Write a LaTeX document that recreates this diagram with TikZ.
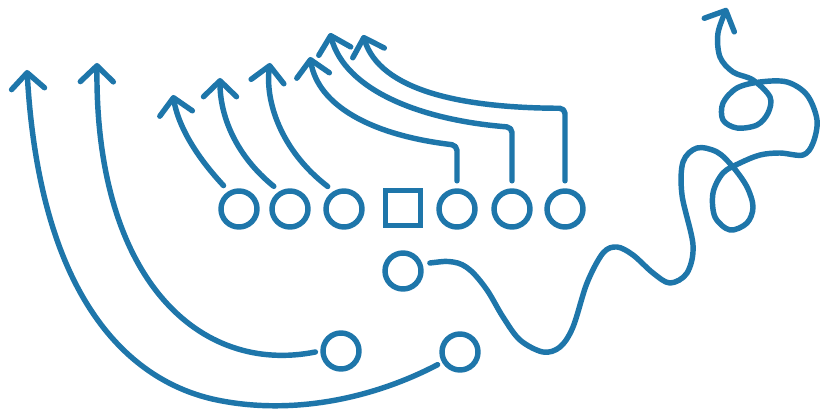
\documentclass[tikz,border=0pt]{standalone}
\usetikzlibrary{arrows.meta}
\definecolor{playblue}{RGB}{30,118,170}

\begin{document}
\begin{tikzpicture}[x=0.02cm,y=-0.02cm,
    route/.style={draw=playblue, line width=3.1pt, line cap=round, line join=round,
        -{Straight Barb[round,length=3.2mm,width=6.6mm]}},
    player/.style={circle, draw=playblue, line width=3.1pt, minimum size=7.2mm, inner sep=0pt},
    snapper/.style={rectangle, draw=playblue, line width=3.1pt, minimum size=7mm, inner sep=0pt}]
    \useasboundingbox[fill=white] (0,0) rectangle (827,412);

    % Line of scrimmage
    \node[player] (o1) at (239,209) {};
    \node[player] (o2) at (290,209) {};
    \node[player] (o3) at (344,209) {};
    \node[snapper] (snap) at (403,208) {};
    \node[player] (o5) at (457,209) {};
    \node[player] (o6) at (512,209) {};
    \node[player] (o7) at (565,209) {};

    % Backfield
    \node[player] (back) at (403,271) {};
    \node[player] (wl) at (341,351) {};
    \node[player] (wr) at (460,352) {};

    % Arrow tips
    \coordinate (t1) at (173,95);
    \coordinate (t2) at (220,78);
    \coordinate (t3) at (270,63);
    \coordinate (t4) at (310,57);
    \coordinate (t5) at (330,33);
    \coordinate (t6) at (363,35);
    \coordinate (t7) at (97,63);
    \coordinate (t8) at (27,70);
    \coordinate (t9) at (727,8);

    % Short routes off the left side
    \draw[route, shorten <=1.5mm] (o1.120) .. controls (195,155) and (178,125) .. (t1);
    \draw[route, shorten <=1.5mm] (o2.120) .. controls (235,155) and (220,115) .. (t2);
    \draw[route, shorten <=1.5mm] (o3.120) .. controls (280,150) and (265,100) .. (t3);

    % Routes that go up, then cut across
    \draw[route, rounded corners=3pt, shorten <=1.5mm] (o5.north) -- ++(0,-43) .. controls (370,135) and (318,105) .. (t4);
    \draw[route, rounded corners=3pt, shorten <=1.5mm] (o6.north) -- ++(0,-61) .. controls (420,120) and (345,90) .. (t5);
    \draw[route, rounded corners=3pt, shorten <=1.5mm] (o7.north) -- ++(0,-80) .. controls (460,108) and (380,90) .. (t6);

    % Long sweeps
    \draw[route, shorten <=1mm] (wl.west) .. controls (200,375) and (95,280) .. (t7);
    \draw[route, shorten <=1mm] (wr.210) .. controls (370,400) and (290,415) .. (217,400)
        .. controls (130,382) and (40,300) .. (t8);

    % Wavy route with loops
    \draw[route, shorten <=1.5mm] plot[smooth, tension=0.55] coordinates {
        (back.20) (453,262) (470,270) (487,290) (503,317) (520,340) (543,352)
        (560,347) (573,327) (587,283) (603,253) (617,247) (633,255) (653,273)
        (670,283) (687,273) (693,245) (682,195) (683,162) (697,148)
        (717,152) (733,167) (747,187) (753,207) (747,223) (730,230) (715,217)
        (713,193) (723,173) (740,163) (760,155) (780,153) (803,155) (813,143)
        (817,120) (807,95) (787,82) (760,82) (737,88) (723,103) (723,120)
        (737,128) (757,125) (768,113) (770,97) (753,80) (733,72) (720,57)
        (718,33) (t9)};

\end{tikzpicture}
\end{document}
